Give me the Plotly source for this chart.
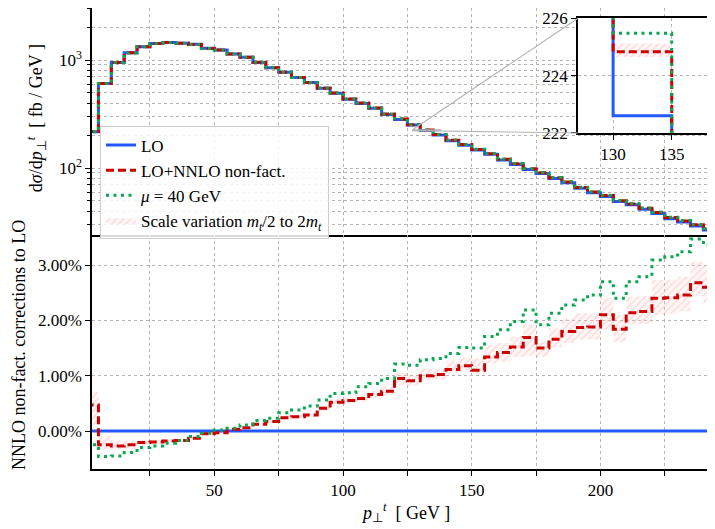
import numpy as np
import plotly.graph_objects as go

# 5 GeV bins: lower edges plus the closing edge
pt_edges = list(range(0, 250, 5))

# LO differential cross section per bin [fb/GeV]
lo_xs = [217, 608, 951, 1169, 1329, 1427, 1455, 1430, 1397, 1283,
         1237, 1137, 1059, 951, 849, 770, 688, 618, 547, 492,
         434, 397, 357, 314, 282, 250, 222.6, 202, 179, 163,
         147, 134, 119, 108, 97, 89, 80, 73, 65, 59,
         54.5, 49, 45.6, 41.5, 37.9, 34, 31.6, 29, 26.7]

# NNLO non-fact. correction relative to LO [%]
nnlo_pct = [0.47, -0.25, -0.27, -0.25, -0.21, -0.20, -0.18, -0.17, -0.13, -0.05,
            -0.03, 0.03, 0.06, 0.12, 0.17, 0.24, 0.26, 0.29, 0.41, 0.52,
            0.55, 0.59, 0.66, 0.72, 0.95, 0.91, 1.00, 1.02, 1.11, 1.18,
            1.10, 1.34, 1.42, 1.52, 1.69, 1.50, 1.66, 1.80, 1.87, 1.88,
            2.10, 1.84, 2.14, 2.16, 2.40, 2.41, 2.46, 2.68, 2.60]

# same with mu = 40 GeV [%]
mu40_pct = [-0.25, -0.46, -0.45, -0.39, -0.30, -0.27, -0.22, -0.17, -0.10, -0.04,
            0.02, 0.05, 0.11, 0.19, 0.23, 0.33, 0.38, 0.45, 0.56, 0.68,
            0.69, 0.80, 0.86, 0.95, 1.21, 1.19, 1.29, 1.31, 1.40, 1.51,
            1.50, 1.71, 1.83, 1.98, 2.19, 1.92, 2.13, 2.28, 2.37, 2.46,
            2.70, 2.40, 2.70, 2.79, 3.09, 3.15, 3.24, 3.47, 3.36]

# scale variation envelope mt/2 .. 2mt [%]
band_lo = [0.10, -0.33, -0.34, -0.32, -0.25, -0.24, -0.21, -0.20, -0.15, -0.07,
           -0.05, 0.01, 0.04, 0.10, 0.14, 0.21, 0.23, 0.25, 0.37, 0.47,
           0.50, 0.53, 0.59, 0.65, 0.83, 0.82, 0.92, 0.93, 1.04, 1.10,
           1.04, 1.22, 1.25, 1.34, 1.36, 1.34, 1.52, 1.59, 1.65, 1.66,
           1.83, 1.61, 1.92, 1.93, 2.10, 2.12, 2.16, 2.43, 2.31]
band_hi = [0.71, -0.10, -0.17, -0.18, -0.17, -0.16, -0.15, -0.14, -0.11, -0.03,
           -0.01, 0.05, 0.08, 0.15, 0.20, 0.28, 0.30, 0.33, 0.46, 0.58,
           0.61, 0.66, 0.73, 0.80, 1.05, 1.00, 1.13, 1.13, 1.27, 1.34,
           1.31, 1.56, 1.59, 1.71, 1.92, 1.62, 1.86, 2.04, 2.13, 2.12,
           2.40, 2.10, 2.43, 2.44, 2.73, 2.74, 2.79, 3.06, 3.00]

lo_xs = np.array(lo_xs)
nnlo_xs = lo_xs * (1 + np.array(nnlo_pct) / 100)
mu40_xs = lo_xs * (1 + np.array(mu40_pct) / 100)
band_lo_xs = lo_xs * (1 + np.array(band_lo) / 100)
band_hi_xs = lo_xs * (1 + np.array(band_hi) / 100)


def steps(v):
    v = list(v)
    return v + [v[-1]]


BLUE = '#2458ff'
RED = '#cc0000'
GREEN = '#0aa650'
GRID = '#b5b5b5'
FONT = 'Liberation Serif'
hatch = dict(shape='/', fgcolor='rgba(255,110,110,0.55)', bgcolor='rgba(255,215,215,0.2)',
             size=5, solidity=0.22)

fig = go.Figure()


def add_set(xa, ya, lo_v, nnlo_v, mu_v, blo, bhi, legend):
    fig.add_trace(go.Scatter(x=pt_edges, y=steps(blo), xaxis=xa, yaxis=ya, mode='lines',
                             line=dict(width=0, shape='hv'), showlegend=False, hoverinfo='skip'))
    fig.add_trace(go.Scatter(x=pt_edges, y=steps(bhi), xaxis=xa, yaxis=ya, mode='lines',
                             line=dict(width=0, shape='hv'), fill='tonexty',
                             fillcolor='rgba(255,255,255,0)', fillpattern=hatch,
                             name='Scale variation <i>m<sub>t</sub></i>/2 to 2<i>m<sub>t</sub></i>',
                             showlegend=legend, legendrank=4))
    fig.add_trace(go.Scatter(x=pt_edges, y=steps(lo_v), xaxis=xa, yaxis=ya, mode='lines',
                             line=dict(color=BLUE, width=3, shape='hv'),
                             name='LO', showlegend=legend, legendrank=1))
    fig.add_trace(go.Scatter(x=pt_edges, y=steps(nnlo_v), xaxis=xa, yaxis=ya, mode='lines',
                             line=dict(color=RED, width=3, shape='hv', dash='8px,4px'),
                             name='LO+NNLO non-fact.', showlegend=legend, legendrank=2))
    fig.add_trace(go.Scatter(x=pt_edges, y=steps(mu_v), xaxis=xa, yaxis=ya, mode='lines',
                             line=dict(color=GREEN, width=3, shape='hv', dash='3px,4.5px'),
                             name='<i>μ</i> = 40 GeV', showlegend=legend, legendrank=3))


# top panel, ratio panel, inset
add_set('x', 'y', lo_xs, nnlo_xs, mu40_xs, band_lo_xs, band_hi_xs, True)
add_set('x2', 'y2', [0] * len(lo_xs), nnlo_pct, mu40_pct, band_lo, band_hi, False)
add_set('x3', 'y3', lo_xs, nnlo_xs, mu40_xs, band_lo_xs, band_hi_xs, False)

# zoom rectangle in the main panel
zx0, zx1, zy0, zy1 = 127, 138, 222, 226
fig.add_trace(go.Scatter(x=[zx0, zx1, zx1, zx0, zx0], y=[zy0, zy0, zy1, zy1, zy0],
                         xaxis='x', yaxis='y', mode='lines', line=dict(color='#aaaaaa', width=1),
                         showlegend=False, hoverinfo='skip'))

# geometry: page has an 8px body margin, plot area spans 623 x 461 px
xr = [2.5, 244.5]
yr_top = [1.38, 3.482]
split = 0.5076
ins_x = [0.780, 0.987]
ins_y = [0.7289, 0.978]


def xp(x):
    return (x - xr[0]) / (xr[1] - xr[0])


def yp(y):
    return split + (np.log10(y) - yr_top[0]) / (yr_top[1] - yr_top[0]) * (1 - split)


for yy, iy in [(zy1, ins_y[1]), (zy0, ins_y[0])]:
    fig.add_shape(type='line', xref='paper', yref='paper', x0=xp(zx0), y0=yp(yy),
                  x1=ins_x[0], y1=iy, line=dict(color='#b5b5b5', width=1.2))

axis_common = dict(showline=True, linecolor='black', linewidth=1.5, mirror=True,
                   gridcolor=GRID, griddash='3px,3px', gridwidth=1, zeroline=False,
                   ticks='outside', tickcolor='black', ticklen=5, tickwidth=1.2,
                   automargin=False,
                   tickfont=dict(family=FONT, size=17, color='black'))

xticks = list(range(25, 250, 25))
xtext = [str(v) if v % 50 == 0 else '' for v in xticks]
minor_log = [20, 30, 40, 50, 60, 70, 80, 90, 200, 300, 400, 500, 600, 700, 800, 900, 2000, 3000]

fig.update_layout(
    width=707, height=521,
    margin=dict(l=84, r=0, t=0, b=60, autoexpand=False),
    paper_bgcolor='white', plot_bgcolor='white',
    font=dict(family=FONT, size=17, color='black'),
    xaxis=dict(axis_common, domain=[0, 1], anchor='y', range=xr, tickvals=xticks,
               showticklabels=False, ticks=''),
    yaxis=dict(axis_common, domain=[split, 1], anchor='x', type='log', range=yr_top,
               tickvals=[100, 1000], ticktext=['10<sup>2</sup>', '10<sup>3</sup>'],
               minor=dict(tickvals=minor_log, ticks='outside', ticklen=3, showgrid=True,
                          gridcolor=GRID, griddash='3px,3px', tickcolor='black')),
    xaxis2=dict(axis_common, domain=[0, 1], anchor='y2', range=xr, tickvals=xticks,
                ticktext=xtext, mirror=False),
    yaxis2=dict(axis_common, domain=[0, split], anchor='x2', range=[-0.687, 3.544],
                tickvals=[0, 1, 2, 3], ticktext=['0.00%', '1.00%', '2.00%', '3.00%']),
    xaxis3=dict(axis_common, domain=ins_x, anchor='y3', range=[zx0, zx1],
                tickvals=[130, 135]),
    yaxis3=dict(axis_common, domain=ins_y, anchor='x3', range=[zy0, zy1],
                tickvals=[222, 224, 226], ticklabeloverflow='allow'),
    legend=dict(x=0.0128, y=0.743, xanchor='left', yanchor='top', traceorder='normal',
                bgcolor='rgba(255,255,255,0.85)', bordercolor='#cccccc', borderwidth=1,
                font=dict(family=FONT, size=17), tracegroupgap=0),
    showlegend=True,
)

# axis titles
fig.add_annotation(text='d<i>σ</i>/d<i>p</i><sub>⊥</sub><sup><i>t</i></sup>  [ fb / GeV ]',
                   xref='paper', yref='paper', x=-0.0899, y=0.761, textangle=-90,
                   showarrow=False, xanchor='center', yanchor='middle',
                   font=dict(family=FONT, size=18))
fig.add_annotation(text='NNLO non-fact. corrections to LO',
                   xref='paper', yref='paper', x=-0.117, y=0.269, textangle=-90,
                   showarrow=False, xanchor='center', yanchor='middle',
                   font=dict(family=FONT, size=18))
fig.add_annotation(text='<i>p</i><sub>⊥</sub><sup><i>t</i></sup>  [ GeV ]',
                   xref='paper', yref='paper', x=0.504, y=-0.0933,
                   showarrow=False, xanchor='center', yanchor='middle',
                   font=dict(family=FONT, size=18))

fig.write_html("out.html")
